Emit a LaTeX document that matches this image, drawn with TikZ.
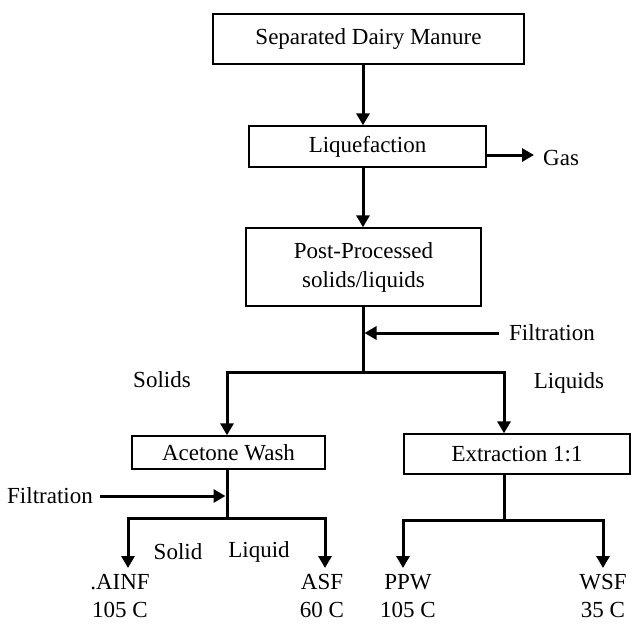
\documentclass[tikz,border=0pt]{standalone}
\usepackage{fontspec}
\setmainfont{Liberation Serif}
\usepackage{tikz}
\usetikzlibrary{
    positioning,      % For placing nodes relative to each other
    arrows.meta       % For the filled triangle arrow tips
}

\begin{document}
\begin{tikzpicture}[
    % Global style settings: one unit is one pixel of the page, y runs down
    x=1pt, y=-1pt,
    % Style for the process boxes
    process_box/.style={
        draw,
        line width=1.4pt,
        font=\fontsize{23}{29}\selectfont,
        inner sep=2pt,
        align=center
    },
    % Style for the free text labels
    label_text/.style={
        font=\fontsize{23}{28}\selectfont,
        inner sep=2pt,
        align=center
    },
    % Style for plain connecting lines
    flow_line/.style={
        line width=3pt
    },
    % Style for lines ending in an arrowhead
    flow_arrow/.style={
        line width=3pt,
        -{Triangle[length=12pt, width=13pt]}
    }
]
    \useasboundingbox (0,0) rectangle (631,630);

    % 1. The process boxes.
    \node[process_box, minimum width=311pt, minimum height=50pt] (manure) at (368.5,39) {Separated Dairy Manure};
    \node[process_box, minimum width=237pt, minimum height=41pt] (liquefaction) at (367.5,146.5) {Liquefaction};
    \node[process_box, minimum width=235pt, minimum height=78pt] (post_processed) at (363.5,267) {Post-Processed\\solids/liquids};
    \node[process_box, minimum width=193pt, minimum height=33pt] (acetone_wash) at (228.5,452.5) {Acetone Wash};
    \node[process_box, minimum width=226pt, minimum height=40pt] (extraction) at (517,454) {Extraction 1:1};

    % 2. Branch points of the connectors.
    \coordinate (trunk) at (363,0);
    \coordinate (main_split) at (363,372);
    \coordinate (solids_drop) at (227,372);
    \coordinate (liquids_drop) at (504,372);
    \coordinate (acetone_split) at (227,518);
    \coordinate (extraction_split) at (504,520);
    \coordinate (ainf_in) at (128,568);
    \coordinate (asf_in) at (325,568);
    \coordinate (ppw_in) at (403,568);
    \coordinate (wsf_in) at (603,568);

    % 3. The text labels.
    \node[label_text, anchor=west] (gas) at (541,158) {Gas};
    \node[label_text, anchor=west] (filtration_top) at (507,333) {Filtration};
    \node[label_text, anchor=east] (filtration_left) at (95,496) {Filtration};
    \node[label_text] (solids) at (162,380) {Solids};
    \node[label_text] (liquids) at (569,383) {Liquids};
    \node[label_text] (solid) at (178,552) {Solid};
    \node[label_text] (liquid) at (259,552) {Liquid};
    \node[label_text, below=4pt of ainf_in, xshift=-8pt] (ainf) {.AINF\\105 C};
    \node[label_text, below=4pt of asf_in, xshift=-3pt] (asf) {ASF\\60 C};
    \node[label_text, below=4pt of ppw_in, xshift=5pt] (ppw) {PPW\\105 C};
    \node[label_text, below=4pt of wsf_in] (wsf) {WSF\\35 C};

    % 4. Main line from the manure down to the split.
    \draw[flow_arrow] (manure.south -| trunk) -- (liquefaction.north -| trunk);
    \draw[flow_arrow] (liquefaction.south -| trunk) -- (post_processed.north -| trunk);
    \draw[flow_arrow, shorten >=7pt] ([yshift=-8.5pt]liquefaction.east) -- ([yshift=-8.5pt]liquefaction.east -| gas.west);
    \draw[flow_line] (post_processed.south -| trunk) -- (main_split);
    \draw[flow_arrow] ([xshift=-8pt]filtration_top.west) -- ([xshift=1.5pt]filtration_top.west -| trunk);

    % 5. Solids and liquids branches.
    \draw[flow_arrow] (main_split) -- (solids_drop) -- (solids_drop |- acetone_wash.north);
    \draw[flow_arrow] (main_split) -- (liquids_drop) -- (liquids_drop |- extraction.north);

    % 6. Below the acetone wash.
    \draw[flow_line] (acetone_wash.south -| acetone_split) -- (acetone_split);
    \draw[flow_arrow] ([xshift=5pt]filtration_left.east) -- ([xshift=-1.5pt]filtration_left.east -| acetone_split);
    \draw[flow_arrow] (acetone_split) -| (ainf_in);
    \draw[flow_arrow] (acetone_split) -| (asf_in);

    % 7. Below the extraction.
    \draw[flow_line] (extraction.south -| extraction_split) -- (extraction_split);
    \draw[flow_arrow] (extraction_split) -| (ppw_in);
    \draw[flow_arrow] (extraction_split) -| (wsf_in);

\end{tikzpicture}
\end{document}
